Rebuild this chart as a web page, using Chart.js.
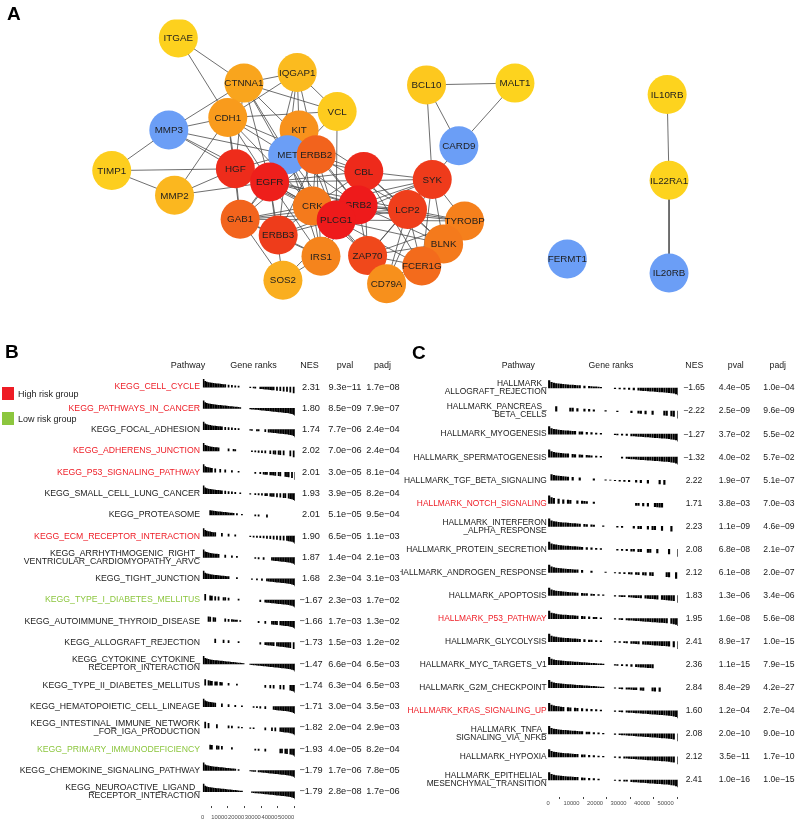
<!DOCTYPE html>
<html>
<head>
<meta charset="utf-8">
<script src="https://cdn.jsdelivr.net/npm/chart.js@4.4.0/dist/chart.umd.min.js"></script>
<style>
html, body { margin: 0; padding: 0; background: #fff; overflow: hidden; }
body { width: 796px; height: 820px; position: relative; font-family: "Liberation Sans", Arial, sans-serif; }
.box { position: absolute; }
.tag { position: absolute; font-weight: bold; font-size: 19px; line-height: 19px; color: #000; }
.key { position: absolute; left: 2px; font-size: 9px; color: #222; display: flex; align-items: center; }
.key span { display: inline-block; width: 12px; height: 13px; margin-right: 4px; }
</style>
</head>
<body>
<div class="box" style="left:0;top:0;width:796px;height:335px"><canvas id="net"></canvas></div>
<div class="box" style="left:0;top:340px;width:400px;height:490px"><canvas id="kegg"></canvas></div>
<div class="box" style="left:400px;top:340px;width:396px;height:490px"><canvas id="hall"></canvas></div>
<div class="tag" style="left:7px;top:4px">A</div>
<div class="tag" style="left:5px;top:342px">B</div>
<div class="tag" style="left:412px;top:343px">C</div>
<div class="key" style="top:387px"><span style="background:#EE1C25"></span>High risk group</div>
<div class="key" style="top:412px"><span style="background:#8CC63E"></span>Low risk group</div>
<script>
// ---- panel A : PPI network ----
const nodeNames = ['ITGAE', 'CTNNA1', 'IQGAP1', 'VCL', 'CDH1', 'MMP3', 'KIT', 'MET', 'ERBB2', 'TIMP1',
    'HGF', 'EGFR', 'CBL', 'MMP2', 'CRK', 'GRB2', 'PLCG1', 'GAB1', 'ERBB3', 'IRS1',
    'ZAP70', 'SOS2', 'CD79A', 'BCL10', 'MALT1', 'CARD9', 'SYK', 'LCP2', 'TYROBP', 'BLNK',
    'FCER1G', 'FERMT1', 'IL10RB', 'IL22RA1', 'IL20RB'];
const nodeX = [167, 236, 292, 334, 219, 157, 294, 282, 312, 97,
    227, 263, 362, 163, 308, 356, 333, 232, 272, 317,
    366, 277, 386, 428, 521, 462, 434, 408, 468, 446,
    423, 576, 681, 683, 683];
const nodeY = [21, 72, 60, 104, 111, 125, 125, 153, 153, 171,
    169, 184, 172, 199, 211, 210, 227, 226, 244, 268,
    267, 295, 299, 74, 72, 143, 181, 215, 228, 254,
    279, 271, 85, 182, 287];
const nodeColor = ['#FDD11E', '#F9A51D', '#FBBB1F', '#FDCB1E', '#F99B1C', '#6B9EF6', '#F8921C', '#6B9EF6', '#F2631D', '#FDCE1E',
    '#EE2C1B', '#EE1F1B', '#EE2A1B', '#FBB71F', '#F47A1C', '#EE1A1B', '#EE1A1B', '#F2641D', '#EE3C1B', '#F5841C',
    '#F0481B', '#FAAE1F', '#F7901C', '#FDC81E', '#FDD31E', '#6B9EF6', '#EF3B1B', '#EF3E1B', '#F5801C', '#F47A1C',
    '#F36B1C', '#6B9EF6', '#FDD31E', '#FDD31E', '#6B9EF6'];
// drawing layer: 0 = underneath, 2 = on top
const nodeLayer = [2, 2, 2, 2, 2, 2, 0, 1, 2, 2,
    0, 2, 0, 2, 1, 1, 2, 2, 2, 2,
    0, 2, 2, 2, 2, 2, 2, 2, 0, 1,
    2, 2, 2, 2, 2];
const edges = [
    ['ITGAE', 'CTNNA1'], ['ITGAE', 'CDH1'],
    ['CTNNA1', 'IQGAP1'], ['CTNNA1', 'VCL'], ['CTNNA1', 'MMP3'], ['CTNNA1', 'CDH1'], ['CTNNA1', 'HGF'],
    ['CTNNA1', 'EGFR'], ['CTNNA1', 'MET'], ['CTNNA1', 'ERBB2'], ['CTNNA1', 'CRK'],
    ['IQGAP1', 'CDH1'], ['IQGAP1', 'VCL'], ['IQGAP1', 'KIT'], ['IQGAP1', 'ERBB2'], ['IQGAP1', 'EGFR'], ['IQGAP1', 'MET'],
    ['VCL', 'CDH1'], ['VCL', 'PLCG1'], ['VCL', 'EGFR'],
    ['MMP3', 'CDH1'], ['MMP3', 'TIMP1'], ['MMP3', 'HGF'], ['MMP3', 'EGFR'], ['MMP3', 'MET'],
    ['TIMP1', 'MMP2'], ['TIMP1', 'HGF'],
    ['MMP2', 'CDH1'], ['MMP2', 'HGF'], ['MMP2', 'EGFR'],
    ['CDH1', 'HGF'], ['CDH1', 'EGFR'], ['CDH1', 'MET'], ['CDH1', 'ERBB2'], ['CDH1', 'GAB1'], ['CDH1', 'CRK'],
    ['KIT', 'EGFR'], ['KIT', 'GRB2'], ['KIT', 'CBL'], ['KIT', 'PLCG1'], ['KIT', 'CRK'],
    ['HGF', 'MET'], ['HGF', 'GAB1'], ['HGF', 'EGFR'], ['HGF', 'GRB2'], ['HGF', 'CRK'], ['HGF', 'PLCG1'],
    ['EGFR', 'ERBB2'], ['EGFR', 'ERBB3'], ['EGFR', 'GAB1'], ['EGFR', 'GRB2'], ['EGFR', 'PLCG1'], ['EGFR', 'CBL'],
    ['EGFR', 'CRK'], ['EGFR', 'IRS1'], ['EGFR', 'SOS2'], ['EGFR', 'MET'], ['EGFR', 'SYK'], ['EGFR', 'LCP2'],
    ['MET', 'ERBB2'], ['MET', 'GAB1'], ['MET', 'GRB2'], ['MET', 'CBL'], ['MET', 'PLCG1'], ['MET', 'CRK'],
    ['MET', 'ERBB3'], ['MET', 'IRS1'],
    ['ERBB2', 'ERBB3'], ['ERBB2', 'GRB2'], ['ERBB2', 'PLCG1'], ['ERBB2', 'CBL'], ['ERBB2', 'CRK'], ['ERBB2', 'IRS1'],
    ['ERBB2', 'GAB1'], ['ERBB2', 'LCP2'],
    ['CBL', 'GRB2'], ['CBL', 'PLCG1'], ['CBL', 'SYK'], ['CBL', 'LCP2'], ['CBL', 'ZAP70'], ['CBL', 'CRK'],
    ['CBL', 'FCER1G'], ['CBL', 'BLNK'],
    ['GRB2', 'PLCG1'], ['GRB2', 'CRK'], ['GRB2', 'SOS2'], ['GRB2', 'GAB1'], ['GRB2', 'IRS1'], ['GRB2', 'LCP2'],
    ['GRB2', 'SYK'], ['GRB2', 'ZAP70'], ['GRB2', 'BLNK'], ['GRB2', 'ERBB3'], ['GRB2', 'TYROBP'],
    ['PLCG1', 'CRK'], ['PLCG1', 'ZAP70'], ['PLCG1', 'SYK'], ['PLCG1', 'LCP2'], ['PLCG1', 'BLNK'], ['PLCG1', 'FCER1G'],
    ['PLCG1', 'GAB1'], ['PLCG1', 'IRS1'], ['PLCG1', 'ERBB3'], ['PLCG1', 'CD79A'], ['PLCG1', 'TYROBP'],
    ['CRK', 'GAB1'], ['CRK', 'IRS1'], ['CRK', 'ERBB3'], ['CRK', 'ZAP70'], ['CRK', 'LCP2'], ['CRK', 'SYK'], ['CRK', 'TYROBP'],
    ['GAB1', 'ERBB3'], ['GAB1', 'SOS2'], ['GAB1', 'IRS1'], ['GAB1', 'LCP2'],
    ['ERBB3', 'IRS1'], ['IRS1', 'SOS2'],
    ['SYK', 'LCP2'], ['SYK', 'TYROBP'], ['SYK', 'BLNK'], ['SYK', 'FCER1G'], ['SYK', 'ZAP70'], ['SYK', 'CD79A'],
    ['SYK', 'CARD9'], ['SYK', 'BCL10'],
    ['LCP2', 'ZAP70'], ['LCP2', 'BLNK'], ['LCP2', 'FCER1G'], ['LCP2', 'TYROBP'], ['LCP2', 'CD79A'],
    ['ZAP70', 'FCER1G'], ['ZAP70', 'CD79A'], ['ZAP70', 'BLNK'], ['ZAP70', 'TYROBP'],
    ['BLNK', 'CD79A'], ['FCER1G', 'TYROBP'], ['FCER1G', 'CD79A'],
    ['BCL10', 'MALT1'], ['BCL10', 'CARD9'], ['MALT1', 'CARD9'],
    ['IL10RB', 'IL22RA1'], ['IL22RA1', 'IL20RB']
];

// ---- panels B / C : GSEA tables ----
// ranking metric per block of 1000 ranked genes (envelope of the barcodes)
const rankStat = [0.85, 0.64, 0.56, 0.51, 0.47, 0.44, 0.41, 0.39, 0.37, 0.35,
    0.33, 0.31, 0.29, 0.27, 0.25, 0.23, 0.21, 0.19, 0.17, 0.15,
    0.13, 0.11, 0.09, 0.07, 0.05, 0.03, 0.02, 0.01, -0.06, -0.08,
    -0.1, -0.12, -0.13, -0.15, -0.17, -0.19, -0.21, -0.23, -0.25, -0.27,
    -0.29, -0.31, -0.33, -0.35, -0.37, -0.39, -0.41, -0.43, -0.45, -0.47,
    -0.49, -0.52, -0.56, -0.6, -0.67, -0.8];
const rankBlock = 1000;
const nGenes = 55300;
const rankTicks = [0, 10000, 20000, 30000, 40000, 50000];

const keggNames = ['KEGG_CELL_CYCLE', 'KEGG_PATHWAYS_IN_CANCER', 'KEGG_FOCAL_ADHESION', 'KEGG_ADHERENS_JUNCTION',
    'KEGG_P53_SIGNALING_PATHWAY', 'KEGG_SMALL_CELL_LUNG_CANCER', 'KEGG_PROTEASOME', 'KEGG_ECM_RECEPTOR_INTERACTION',
    'KEGG_ARRHYTHMOGENIC_RIGHT_\nVENTRICULAR_CARDIOMYOPATHY_ARVC', 'KEGG_TIGHT_JUNCTION', 'KEGG_TYPE_I_DIABETES_MELLITUS',
    'KEGG_AUTOIMMUNE_THYROID_DISEASE', 'KEGG_ALLOGRAFT_REJECTION', 'KEGG_CYTOKINE_CYTOKINE_\nRECEPTOR_INTERACTION',
    'KEGG_TYPE_II_DIABETES_MELLITUS', 'KEGG_HEMATOPOIETIC_CELL_LINEAGE', 'KEGG_INTESTINAL_IMMUNE_NETWORK\n_FOR_IGA_PRODUCTION',
    'KEGG_PRIMARY_IMMUNODEFICIENCY', 'KEGG_CHEMOKINE_SIGNALING_PATHWAY', 'KEGG_NEUROACTIVE_LIGAND_\nRECEPTOR_INTERACTION'];
const keggGroup = ['high', 'high', '', 'high', 'high', '', '', 'high', '', '', 'low', '', '', '', '', '', '', 'low', '', ''];
const keggNES = [2.31, 1.80, 1.74, 2.02, 2.01, 1.93, 2.01, 1.90, 1.87, 1.68,
    -1.67, -1.66, -1.73, -1.47, -1.74, -1.71, -1.82, -1.93, -1.79, -1.79];
const keggPval = [9.3e-11, 8.5e-09, 7.7e-06, 7.0e-06, 3.0e-05, 3.9e-05, 5.1e-05, 6.5e-05, 1.4e-04, 2.3e-04,
    2.3e-03, 1.7e-03, 1.5e-03, 6.6e-04, 6.3e-04, 3.0e-04, 2.0e-04, 4.0e-05, 1.7e-06, 2.8e-08];
const keggPadj = [1.7e-08, 7.9e-07, 2.4e-04, 2.4e-04, 8.1e-04, 8.2e-04, 9.5e-04, 1.1e-03, 2.1e-03, 3.1e-03,
    1.7e-02, 1.3e-02, 1.2e-02, 6.5e-03, 6.5e-03, 3.5e-03, 2.9e-03, 8.2e-04, 7.8e-05, 1.7e-06];
// blocks of 1000 ranks holding pathway genes
const keggHits = [
    [0, 1, 2, 3, 4, 5, 6, 7, 8, 9, 10, 11, 12, 13, 15, 17, 19, 21, 28, 30, 31, 34, 35, 36, 37, 38, 39, 40, 41, 42, 44, 46, 48, 50, 52, 54],
    [0, 1, 2, 3, 4, 5, 6, 7, 8, 9, 10, 11, 12, 13, 14, 15, 16, 17, 18, 19, 20, 21, 22, 28, 29, 30, 31, 32, 33, 34, 35, 36, 37, 38, 39, 40, 41, 42, 43, 44, 45, 46, 47, 48, 49, 50, 51, 52, 53, 54, 55],
    [0, 1, 2, 3, 4, 5, 6, 7, 8, 9, 10, 11, 13, 15, 17, 19, 21, 28, 29, 32, 33, 37, 39, 40, 41, 42, 43, 44, 45, 46, 47, 48, 49, 50, 51, 52, 53, 54, 55],
    [0, 1, 2, 3, 4, 5, 6, 7, 8, 9, 15, 18, 19, 29, 31, 33, 35, 37, 40, 42, 43, 45, 46, 48, 52, 54],
    [0, 1, 2, 3, 4, 5, 7, 10, 13, 17, 21, 31, 34, 36, 37, 38, 40, 41, 42, 43, 45, 46, 49, 50, 51, 53, 55],
    [0, 1, 2, 3, 4, 5, 6, 7, 8, 9, 10, 11, 13, 15, 17, 19, 22, 28, 31, 33, 35, 37, 38, 40, 41, 42, 44, 46, 48, 49, 51, 52, 53, 54, 55],
    [4, 5, 6, 7, 8, 9, 10, 11, 12, 13, 14, 15, 16, 17, 18, 20, 23, 31, 33, 38],
    [0, 1, 2, 3, 4, 5, 6, 7, 11, 15, 19, 28, 30, 32, 34, 36, 38, 40, 42, 44, 46, 48, 50, 51, 52, 53, 54, 55],
    [0, 1, 2, 3, 4, 5, 6, 7, 8, 9, 13, 17, 20, 31, 33, 36, 41, 42, 43, 44, 45, 46, 47, 48, 49, 50, 51, 52, 53, 54, 55],
    [0, 1, 2, 3, 4, 5, 6, 7, 8, 9, 10, 11, 12, 13, 14, 15, 20, 29, 32, 35, 38, 39, 40, 41, 42, 43, 44, 45, 46, 47, 48, 49, 50, 51, 52, 53, 54, 55],
    [1, 4, 5, 7, 9, 12, 13, 15, 21, 34, 37, 38, 39, 40, 41, 42, 43, 44, 45, 46, 47, 48, 49, 50, 51, 52, 53, 54, 55],
    [3, 4, 6, 7, 13, 15, 17, 18, 19, 20, 22, 33, 37, 41, 42, 43, 44, 46, 47, 48, 49, 50, 51, 52, 53, 54, 55],
    [7, 12, 15, 21, 34, 37, 38, 39, 40, 41, 42, 44, 45, 46, 47, 48, 49, 50, 51, 52, 54],
    [0, 1, 2, 3, 4, 5, 6, 7, 8, 9, 10, 11, 12, 13, 14, 15, 16, 17, 18, 19, 20, 21, 22, 23, 24, 28, 29, 30, 31, 32, 33, 34, 35, 36, 37, 38, 39, 40, 41, 42, 43, 44, 45, 46, 47, 48, 49, 50, 51, 52, 53, 54, 55],
    [1, 3, 4, 5, 7, 8, 10, 11, 15, 20, 37, 40, 42, 46, 48, 52, 53, 54, 55],
    [0, 1, 2, 3, 4, 5, 6, 7, 11, 15, 19, 23, 30, 32, 34, 37, 42, 43, 44, 45, 46, 47, 48, 49, 50, 51, 52, 53, 54, 55],
    [1, 3, 8, 15, 17, 21, 23, 28, 30, 37, 41, 43, 46, 47, 48, 49, 50, 51, 52, 53, 54, 55],
    [4, 5, 8, 9, 11, 17, 31, 33, 37, 46, 47, 49, 50, 52, 53, 54, 55],
    [0, 1, 2, 3, 4, 5, 6, 7, 8, 9, 10, 11, 12, 13, 14, 15, 16, 17, 18, 19, 21, 28, 29, 30, 31, 33, 34, 35, 36, 37, 38, 39, 40, 41, 42, 43, 44, 45, 46, 47, 48, 49, 50, 51, 52, 53, 54, 55],
    [0, 1, 2, 3, 4, 5, 6, 7, 8, 9, 10, 11, 12, 13, 14, 15, 16, 17, 18, 19, 20, 21, 22, 23, 29, 30, 31, 32, 33, 34, 35, 36, 37, 38, 39, 40, 41, 42, 43, 44, 45, 46, 47, 48, 49, 50, 51, 52, 53, 54, 55]
];

const hallNames = ['HALLMARK_\nALLOGRAFT_REJECTION', 'HALLMARK_PANCREAS_\nBETA_CELLS', 'HALLMARK_MYOGENESIS',
    'HALLMARK_SPERMATOGENESIS', 'HALLMARK_TGF_BETA_SIGNALING', 'HALLMARK_NOTCH_SIGNALING',
    'HALLMARK_INTERFERON\n_ALPHA_RESPONSE', 'HALLMARK_PROTEIN_SECRETION', 'HALLMARK_ANDROGEN_RESPONSE',
    'HALLMARK_APOPTOSIS', 'HALLMARK_P53_PATHWAY', 'HALLMARK_GLYCOLYSIS', 'HALLMARK_MYC_TARGETS_V1',
    'HALLMARK_G2M_CHECKPOINT', 'HALLMARK_KRAS_SIGNALING_UP', 'HALLMARK_TNFA_\nSIGNALING_VIA_NFKB',
    'HALLMARK_HYPOXIA', 'HALLMARK_EPITHELIAL_\nMESENCHYMAL_TRANSITION'];
const hallGroup = ['', '', '', '', '', 'high', '', '', '', '', 'high', '', '', '', 'high', '', '', ''];
const hallNES = [-1.65, -2.22, -1.27, -1.32, 2.22, 1.71, 2.23, 2.08, 2.12, 1.83, 1.95, 2.41, 2.36, 2.84, 1.60, 2.08, 2.12, 2.41];
const hallPval = [4.4e-05, 2.5e-09, 3.7e-02, 4.0e-02, 1.9e-07, 3.8e-03, 1.1e-09, 6.8e-08, 6.1e-08,
    1.3e-06, 1.6e-08, 8.9e-17, 1.1e-15, 8.4e-29, 1.2e-04, 2.0e-10, 3.5e-11, 1.0e-16];
const hallPadj = [1.0e-04, 9.6e-09, 5.5e-02, 5.7e-02, 5.1e-07, 7.0e-03, 4.6e-09, 2.1e-07, 2.0e-07,
    3.4e-06, 5.6e-08, 1.0e-15, 7.9e-15, 4.2e-27, 2.7e-04, 9.0e-10, 1.7e-10, 1.0e-15];
const hallHits = [
    [0, 1, 2, 3, 4, 5, 6, 7, 8, 9, 10, 11, 12, 13, 15, 17, 18, 19, 20, 21, 22, 28, 30, 32, 34, 36, 38, 39, 40, 41, 42, 43, 44, 45, 46, 47, 48, 49, 50, 51, 52, 53, 54, 55],
    [3, 9, 10, 12, 15, 17, 19, 24, 29, 35, 38, 39, 41, 44, 49, 50, 52, 53, 55],
    [0, 1, 2, 3, 4, 5, 6, 7, 8, 9, 10, 11, 13, 14, 16, 18, 20, 22, 28, 29, 31, 33, 35, 36, 37, 38, 39, 40, 41, 42, 43, 44, 45, 46, 47, 48, 49, 50, 51, 52, 53, 54, 55],
    [0, 1, 2, 3, 4, 5, 6, 7, 8, 10, 11, 13, 14, 16, 17, 18, 20, 22, 31, 33, 34, 35, 36, 37, 38, 39, 40, 41, 42, 43, 44, 45, 46, 47, 48, 49, 50, 51, 52, 53, 54, 55],
    [1, 2, 3, 4, 5, 6, 7, 8, 10, 13, 19, 24, 26, 28, 30, 32, 34, 37, 39, 42, 47, 49],
    [0, 1, 2, 4, 6, 8, 9, 12, 14, 15, 16, 19, 37, 38, 40, 42, 45, 46, 47, 48],
    [0, 1, 2, 3, 4, 5, 6, 7, 8, 9, 10, 11, 12, 13, 15, 16, 18, 19, 23, 29, 31, 36, 38, 39, 42, 44, 45, 48, 52],
    [0, 1, 2, 3, 4, 5, 6, 7, 8, 9, 10, 11, 12, 13, 14, 16, 18, 20, 22, 29, 31, 33, 35, 36, 38, 39, 42, 43, 46, 51, 55],
    [0, 1, 2, 3, 4, 5, 6, 7, 8, 9, 10, 11, 12, 14, 18, 24, 28, 30, 32, 34, 35, 37, 38, 40, 41, 43, 44, 50, 51, 54],
    [0, 1, 2, 3, 4, 5, 6, 7, 8, 9, 10, 11, 12, 14, 15, 16, 18, 19, 21, 23, 28, 30, 31, 32, 34, 35, 36, 37, 38, 39, 41, 42, 43, 44, 45, 46, 48, 49, 50, 51, 52, 53, 55],
    [0, 1, 2, 3, 4, 5, 6, 7, 8, 9, 10, 11, 12, 14, 15, 17, 19, 20, 22, 28, 30, 31, 33, 34, 35, 36, 37, 38, 39, 40, 41, 42, 43, 44, 45, 46, 47, 48, 49, 50, 52, 53, 54, 55],
    [0, 1, 2, 3, 4, 5, 6, 7, 8, 9, 10, 11, 12, 13, 15, 17, 18, 20, 22, 28, 30, 32, 33, 35, 36, 37, 38, 40, 41, 42, 43, 44, 45, 46, 47, 48, 49, 50, 51, 53, 55],
    [0, 1, 2, 3, 4, 5, 6, 7, 8, 9, 10, 11, 12, 13, 14, 15, 16, 17, 18, 19, 20, 21, 22, 23, 28, 29, 31, 33, 35, 37, 38, 39, 40, 41, 42, 43, 44],
    [0, 1, 2, 3, 4, 5, 6, 7, 8, 9, 10, 11, 12, 13, 14, 15, 16, 17, 18, 19, 20, 21, 22, 23, 28, 30, 31, 33, 34, 35, 36, 37, 39, 40, 44, 45, 47],
    [0, 1, 2, 3, 4, 5, 6, 8, 9, 11, 12, 14, 16, 18, 20, 22, 28, 30, 31, 33, 34, 35, 36, 37, 38, 39, 40, 41, 42, 43, 44, 45, 46, 47, 48, 49, 50, 51, 52, 53, 54, 55],
    [0, 1, 2, 3, 4, 5, 6, 7, 8, 9, 10, 11, 12, 13, 14, 16, 17, 19, 21, 23, 28, 30, 31, 32, 33, 34, 35, 36, 37, 38, 39, 40, 41, 42, 43, 44, 45, 46, 47, 48, 49, 50, 51, 52, 53, 55],
    [0, 1, 2, 3, 4, 5, 6, 7, 8, 9, 10, 11, 12, 14, 15, 17, 19, 21, 23, 28, 30, 32, 33, 34, 35, 36, 37, 38, 39, 40, 41, 42, 43, 44, 45, 46, 47, 48, 49, 50, 51, 52, 53, 55],
    [0, 1, 2, 3, 4, 5, 6, 7, 8, 9, 10, 11, 12, 14, 15, 17, 19, 21, 28, 30, 32, 33, 35, 36, 37, 38, 39, 40, 41, 42, 43, 44, 45, 46, 47, 48, 49, 50, 51, 52, 53, 54, 55]
];

const FONT = '"Liberation Sans", Arial, sans-serif';
const groupColor = { high: '#EE1C25', low: '#8CC63E', '': '#1a1a1a' };

function sci(v) {
    const [m, e] = v.toExponential(1).split('e');
    const n = Math.abs(Number(e));
    return m + 'e' + (Number(e) < 0 ? '\u2212' : '+') + String(n).padStart(2, '0');
}
function nes(v) {
    return (v < 0 ? '\u2212' : '') + Math.abs(v).toFixed(2);
}

// network
const nodeIndex = {};
nodeNames.forEach((n, i) => { nodeIndex[n] = i; });

const edgeSets = edges.map(([a, b]) => ({
    type: 'line',
    data: [{ x: nodeX[nodeIndex[a]], y: nodeY[nodeIndex[a]] }, { x: nodeX[nodeIndex[b]], y: nodeY[nodeIndex[b]] }],
    borderColor: '#4a4a4a',
    borderWidth: 0.8,
    pointRadius: 0,
    fill: false,
    order: 10
}));

const nodeSets = [0, 1, 2].map(layer => {
    const members = nodeNames.map((n, i) => i).filter(i => nodeLayer[i] === layer);
    return {
        type: 'scatter',
        data: members.map(i => ({ x: nodeX[i], y: nodeY[i] })),
        names: members.map(i => nodeNames[i]),
        backgroundColor: members.map(i => nodeColor[i]),
        pointRadius: 19.5,
        pointHoverRadius: 19.5,
        borderWidth: 0,
        order: 3 - layer
    };
});

const nodeLabels = {
    id: 'nodeLabels',
    afterDatasetDraw(chart, args) {
        const ds = chart.data.datasets[args.index];
        if (!ds.names) return;
        const ctx = chart.ctx;
        ctx.save();
        ctx.font = '9.8px ' + FONT;
        ctx.fillStyle = '#1e1e1e';
        ctx.textAlign = 'center';
        ctx.textBaseline = 'middle';
        args.meta.data.forEach((pt, j) => ctx.fillText(ds.names[j], pt.x, pt.y + 0.5));
        ctx.restore();
    }
};

new Chart(document.getElementById('net'), {
    type: 'scatter',
    data: { datasets: nodeSets.concat(edgeSets) },
    options: {
        responsive: true,
        maintainAspectRatio: false,
        animation: false,
        events: [],
        layout: { padding: 0 },
        plugins: { legend: { display: false }, tooltip: { enabled: false } },
        scales: {
            x: { type: 'linear', display: false, min: 0, max: 796 },
            y: { type: 'linear', display: false, min: 0, max: 335, reverse: true }
        }
    },
    plugins: [nodeLabels]
});

// GSEA tables
function barcodeSets(hits, heightScale, thickness) {
    return hits.map((row, i) => ({
        data: row.map(b => ({ x: b * rankBlock + rankBlock / 2, y: [i, i - rankStat[b] * heightScale] })),
        backgroundColor: '#000',
        borderWidth: 0,
        grouped: false,
        barThickness: thickness
    }));
}

const gseaTable = {
    id: 'gseaTable',
    afterDraw(chart, args, o) {
        const ctx = chart.ctx;
        const y = chart.scales.y;
        ctx.save();
        ctx.textBaseline = 'middle';
        ctx.textAlign = 'center';
        ctx.fillStyle = '#1a1a1a';
        ctx.font = o.headSize + 'px ' + FONT;
        o.heads.forEach((h, k) => ctx.fillText(h, o.headX[k], o.headY));
        o.names.forEach((name, i) => {
            const yy = y.getPixelForValue(i);
            const lines = name.split('\n');
            ctx.textAlign = 'right';
            ctx.font = o.nameSize + 'px ' + FONT;
            ctx.fillStyle = groupColor[o.groups[i]];
            if (lines.length === 1) {
                ctx.fillText(lines[0], o.nameX, yy);
            } else {
                ctx.fillText(lines[0], o.nameX, yy - o.lineGap / 2);
                ctx.fillText(lines[1], o.nameX, yy + o.lineGap / 2);
            }
            ctx.textAlign = 'center';
            ctx.font = o.numSize + 'px ' + FONT;
            ctx.fillStyle = '#1a1a1a';
            ctx.fillText(nes(o.nes[i]), o.colX[0], yy);
            ctx.fillText(sci(o.pval[i]), o.colX[1], yy);
            ctx.fillText(sci(o.padj[i]), o.colX[2], yy);
        });
        ctx.restore();
    }
};

function gseaChart(id, hits, cfg) {
    return new Chart(document.getElementById(id), {
        type: 'bar',
        data: { datasets: barcodeSets(hits, cfg.heightScale, cfg.thickness) },
        options: {
            responsive: true,
            maintainAspectRatio: false,
            animation: false,
            events: [],
            layout: { padding: cfg.padding },
            plugins: { legend: { display: false }, tooltip: { enabled: false }, gseaTable: cfg.table },
            scales: {
                x: {
                    type: 'linear', min: 0, max: nGenes, offset: false,
                    grid: { drawOnChartArea: false, tickLength: 2, color: '#444', tickWidth: 1 },
                    border: { display: false },
                    afterBuildTicks: axis => { axis.ticks = rankTicks.map(v => ({ value: v })); },
                    ticks: {
                        autoSkip: false, maxRotation: 0, padding: cfg.tickPad,
                        font: { size: 5.8, family: FONT }, color: '#4d4d4d',
                        callback: v => String(v)
                    }
                },
                y: { type: 'linear', display: false, min: -0.5, max: cfg.yMax, reverse: true }
            }
        },
        plugins: [gseaTable]
    });
}

const heads = ['Pathway', 'Gene ranks', 'NES', 'pval', 'padj'];

gseaChart('kegg', keggHits, {
    heightScale: 0.42, thickness: 1.1, yMax: keggNames.length - 0.33, tickPad: 5.5,
    padding: { left: 202.7, right: 105, top: 36.4, bottom: 4 },
    table: {
        heads: heads, headX: [188, 253.5, 309.5, 345, 382.5], headY: 26, headSize: 9,
        names: keggNames, groups: keggGroup, nes: keggNES, pval: keggPval, padj: keggPadj,
        nameX: 200, nameSize: 8.7, numSize: 9.2, lineGap: 8, colX: [311, 345, 383]
    }
});

gseaChart('hall', hallHits, {
    heightScale: 0.38, thickness: 1.5, yMax: hallNames.length - 0.26, tickPad: 1,
    padding: { left: 148, right: 118, top: 36.5, bottom: 22 },
    table: {
        heads: heads, headX: [118.3, 211, 294.3, 335.8, 377.8], headY: 26, headSize: 8.7,
        names: hallNames, groups: hallGroup, nes: hallNES, pval: hallPval, padj: hallPadj,
        nameX: 146.7, nameSize: 8.4, numSize: 8.6, lineGap: 8, colX: [294, 334.5, 379]
    }
});
</script>
</body>
</html>
